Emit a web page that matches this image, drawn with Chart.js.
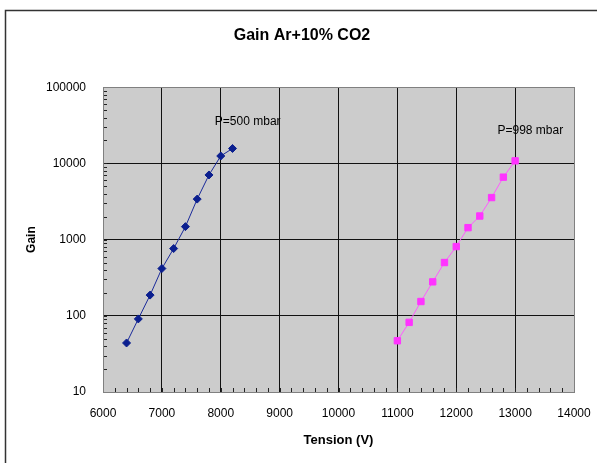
<!DOCTYPE html>
<html>
<head>
<meta charset="utf-8">
<script src="https://cdn.jsdelivr.net/npm/chart.js@4.4.0/dist/chart.umd.min.js"></script>
<style>
  html, body { margin: 0; padding: 0; background: #fff; }
  #wrap { width: 597px; height: 463px; }
</style>
</head>
<body>
<div id="wrap"><canvas id="c"></canvas></div>
<script>
// values
const tension500 = [6400, 6600, 6800, 7000, 7200, 7400, 7600, 7800, 8000, 8200]
const gain500 = [44, 91, 187, 417, 763, 1480, 3400, 7050, 12500, 15700]
const tension998 = [11000, 11200, 11400, 11600, 11800, 12000, 12200, 12400, 12600, 12800, 13000]
const gain998 = [47, 82, 154, 279, 500, 810, 1435, 2040, 3560, 6600, 10800]

const xTicks = [6000, 7000, 8000, 9000, 10000, 11000, 12000, 13000, 14000]
const yTicks = [10, 100, 1000, 10000, 100000]

const noteText = ['P=500 mbar', 'P=998 mbar']
const noteX = [7900, 12700]
const noteY = [35800, 26500]

const FONT = "'Liberation Sans', Arial, sans-serif"

const frame = {
  id: 'frame',
  beforeDraw(chart) {
    const { ctx, chartArea: a } = chart
    ctx.save()
    ctx.fillStyle = '#fff'
    ctx.fillRect(0, 0, chart.width, chart.height)
    ctx.strokeStyle = '#333'
    ctx.lineWidth = 1.5
    ctx.strokeRect(5.5, 10.5, 800, 800)
    ctx.fillStyle = '#cccccc'
    ctx.fillRect(a.left, a.top, a.right - a.left, a.bottom - a.top)
    ctx.restore()
  },
  beforeDatasetsDraw(chart) {
    const { ctx, chartArea: a, scales } = chart
    ctx.save()
    // minor ticks, inside the plot
    ctx.strokeStyle = '#222'
    ctx.lineWidth = 1
    ctx.beginPath()
    scales.y.ticks.forEach(t => {
      const py = Math.round(scales.y.getPixelForValue(t.value)) + 0.5
      ctx.moveTo(a.left, py)
      ctx.lineTo(a.left + 4, py)
    })
    scales.x.ticks.forEach(t => {
      const px = Math.round(scales.x.getPixelForValue(t.value)) + 0.5
      ctx.moveTo(px, a.bottom)
      ctx.lineTo(px, a.bottom - 4)
    })
    ctx.stroke()
    ctx.strokeStyle = '#808080'
    ctx.strokeRect(Math.round(a.left) + 0.5, Math.round(a.top) + 0.5,
      Math.round(a.right - a.left), Math.round(a.bottom - a.top))
    ctx.restore()
  },
  afterDraw(chart) {
    const { ctx, scales } = chart
    ctx.save()
    ctx.fillStyle = '#000'
    ctx.font = '12px ' + FONT
    ctx.textBaseline = 'middle'
    noteText.forEach((t, i) => {
      ctx.fillText(t, scales.x.getPixelForValue(noteX[i]), scales.y.getPixelForValue(noteY[i]))
    })
    ctx.restore()
  }
}

new Chart(document.getElementById('c'), {
  type: 'scatter',
  data: {
    datasets: [{
      label: 'P=500 mbar',
      data: tension500.map((x, i) => ({ x: x, y: gain500[i] })),
      showLine: true,
      borderColor: '#1a2a9a',
      borderWidth: 1,
      backgroundColor: '#0b1f8f',
      pointBackgroundColor: '#0b1f8f',
      pointBorderColor: '#0b1f8f',
      pointStyle: 'rectRot',
      pointRadius: 4,
      pointHoverRadius: 4
    }, {
      label: 'P=998 mbar',
      data: tension998.map((x, i) => ({ x: x, y: gain998[i] })),
      showLine: true,
      borderColor: '#ff5cff',
      borderWidth: 1,
      backgroundColor: '#ff33ff',
      pointBackgroundColor: '#ff33ff',
      pointBorderColor: '#ff33ff',
      pointStyle: 'rect',
      pointRadius: 4.5,
      pointHoverRadius: 4.5
    }]
  },
  options: {
    responsive: true,
    maintainAspectRatio: false,
    animation: false,
    layout: { padding: { left: 30, right: 23, top: 0, bottom: 0 } },
    plugins: {
      legend: { display: false },
      tooltip: { enabled: false },
      title: {
        display: true,
        text: 'Gain Ar+10% CO2',
        color: '#000',
        font: { family: FONT, size: 16, weight: 'bold' },
        padding: { top: 26, bottom: 42 }
      }
    },
    scales: {
      x: {
        type: 'linear',
        min: 6000,
        max: 14000,
        afterBuildTicks: scale => {
          const ticks = []
          for (let v = xTicks[0]; v <= xTicks[xTicks.length - 1]; v += 200) ticks.push({ value: v })
          scale.ticks = ticks
        },
        afterFit: scale => {
          scale.height = 71
          scale.paddingRight = 0
          scale.paddingLeft = 0
        },
        ticks: {
          autoSkip: false,
          maxRotation: 0,
          minRotation: 0,
          padding: 14,
          color: '#000',
          font: { family: FONT, size: 12 },
          callback: v => xTicks.includes(v) ? String(v) : ''
        },
        grid: {
          drawTicks: false,
          color: ctx => ctx.tick && xTicks.includes(ctx.tick.value) ? '#111' : 'rgba(0,0,0,0)',
          lineWidth: 1
        },
        border: { color: '#808080' },
        title: {
          display: true,
          text: 'Tension (V)',
          color: '#000',
          font: { family: FONT, size: 13, weight: 'bold' },
          padding: { top: 15, bottom: 15 }
        }
      },
      y: {
        type: 'logarithmic',
        min: 10,
        max: 100000,
        afterBuildTicks: scale => {
          const ticks = []
          for (let i = 0; i < yTicks.length - 1; i++) {
            for (let k = 1; k < 10; k++) ticks.push({ value: yTicks[i] * k })
          }
          ticks.push({ value: yTicks[yTicks.length - 1] })
          scale.ticks = ticks
        },
        afterFit: scale => { scale.width = 73 },
        ticks: {
          autoSkip: false,
          padding: 17,
          color: '#000',
          font: { family: FONT, size: 12 },
          callback: v => yTicks.includes(v) ? String(v) : ''
        },
        grid: {
          drawTicks: false,
          color: ctx => ctx.tick && yTicks.includes(ctx.tick.value) ? '#111' : 'rgba(0,0,0,0)',
          lineWidth: 1
        },
        border: { color: '#808080' },
        title: {
          display: true,
          text: 'Gain',
          color: '#000',
          font: { family: FONT, size: 12, weight: 'bold' },
          padding: { top: -6, bottom: 0 }
        }
      }
    }
  },
  plugins: [frame]
})
</script>
</body>
</html>
